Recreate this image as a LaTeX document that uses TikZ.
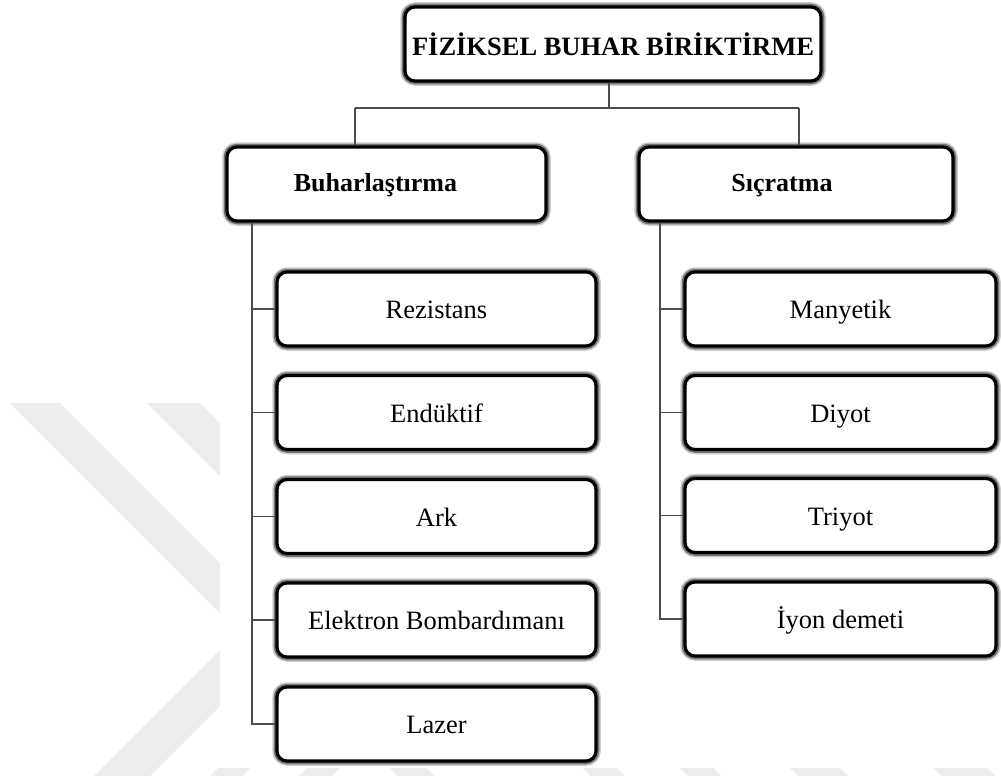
\documentclass[tikz,border=0pt]{standalone}
\usepackage{fontspec}
\setmainfont{Liberation Serif}
\begin{document}
\begin{tikzpicture}[x=1pt,y=-1pt]
\tikzset{
  wm/.style={fill=black!7, draw=none},
  conn/.style={draw=black!70, line width=1.9pt},
  box/.style={rectangle, rounded corners=10pt, draw=black, line width=3.2pt, fill=white,
    inner sep=0pt, minimum height=74pt, text depth=0pt,
    preaction={draw=black!20, line width=9.5pt},
    preaction={draw=black!55, line width=6.5pt}},
  headbox/.style={box, minimum width=416pt, text height=23pt, font=\fontsize{26.5}{30}\selectfont\bfseries},
  midbox/.style={box, text height=15.4pt, font=\fontsize{26}{30}\selectfont\bfseries},
  lbox/.style={box, minimum width=319pt, text height=19pt, font=\fontsize{26.5}{30}\selectfont},
  rbox/.style={box, minimum width=311pt, text height=19pt, font=\fontsize{26.5}{30}\selectfont}
}
\useasboundingbox (0,0) rectangle (1001,776);
\fill[white] (0,0) rectangle (1001,776);
% watermark
\fill[wm] (10,403) -- (60,403) -- (230,573) -- (230,623) -- cycle;
\fill[wm] (147,403) -- (200,403) -- (230,433) -- (230,486) -- cycle;
\fill[wm] (223,647) -- (94,776) -- (150,776) -- (230,696) -- cycle;
\fill[wm] (218,768) -- (250,768) -- (242,776) -- (210,776) -- cycle;
\fill[wm] (307,768) -- (340,768) -- (332,776) -- (299,776) -- cycle;
\fill[wm] (390,768) -- (427,768) -- (435,776) -- (398,776) -- cycle;
\fill[wm] (583,768) -- (617,768) -- (625,776) -- (591,776) -- cycle;
\fill[wm] (680,768) -- (713,768) -- (721,776) -- (688,776) -- cycle;
\fill[wm] (790,768) -- (840,768) -- (848,776) -- (798,776) -- cycle;
\fill[wm] (933,768) -- (987,768) -- (995,776) -- (941,776) -- cycle;
\fill[white] (220,0) rectangle (1001,768);

% junction coordinates
\coordinate (j) at (609,108);
\coordinate (jl) at (355,108);
\coordinate (jr) at (799,108);
\coordinate (tl) at (252,0);
\coordinate (tr) at (660,0);

% nodes
\node[headbox] (top) at (613,44) {FİZİKSEL BUHAR BİRİKTİRME};
\node[midbox, minimum width=319pt] (buh) at (386.5,184) {Buharlaştırma\hspace*{22pt}};
\node[midbox, minimum width=314pt] (sic) at (796,184) {Sıçratma\hspace*{28pt}};

\node[lbox] (rez) at (436.5,309) {Rezistans};
\node[lbox] (end) at (436.5,412.5) {Endüktif};
\node[lbox] (ark) at (436.5,516.5) {Ark};
\node[lbox] (ele) at (436.5,620) {Elektron Bombardımanı};
\node[lbox] (laz) at (436.5,724) {Lazer};

\node[rbox] (man) at (840.5,309) {Manyetik};
\node[rbox] (diy) at (840.5,412.5) {Diyot};
\node[rbox] (tri) at (840.5,515.5) {Triyot};
\node[rbox] (iyo) at (840.5,619) {İyon demeti};

% connectors
\draw[conn] (top.south -| j) -- (j);
\draw[conn] (jl) -- (jr);
\draw[conn] (jl) -- (jl |- buh.north);
\draw[conn] (jr) -- (jr |- sic.north);
\draw[conn] (buh.south -| tl) -- (laz.west -| tl) -- (laz.west);
\draw[conn] (rez.west -| tl) -- (rez.west);
\draw[conn] (end.west -| tl) -- (end.west);
\draw[conn] (ark.west -| tl) -- (ark.west);
\draw[conn] (ele.west -| tl) -- (ele.west);
\draw[conn] (sic.south -| tr) -- (iyo.west -| tr) -- (iyo.west);
\draw[conn] (man.west -| tr) -- (man.west);
\draw[conn] (diy.west -| tr) -- (diy.west);
\draw[conn] (tri.west -| tr) -- (tri.west);
\end{tikzpicture}
\end{document}
